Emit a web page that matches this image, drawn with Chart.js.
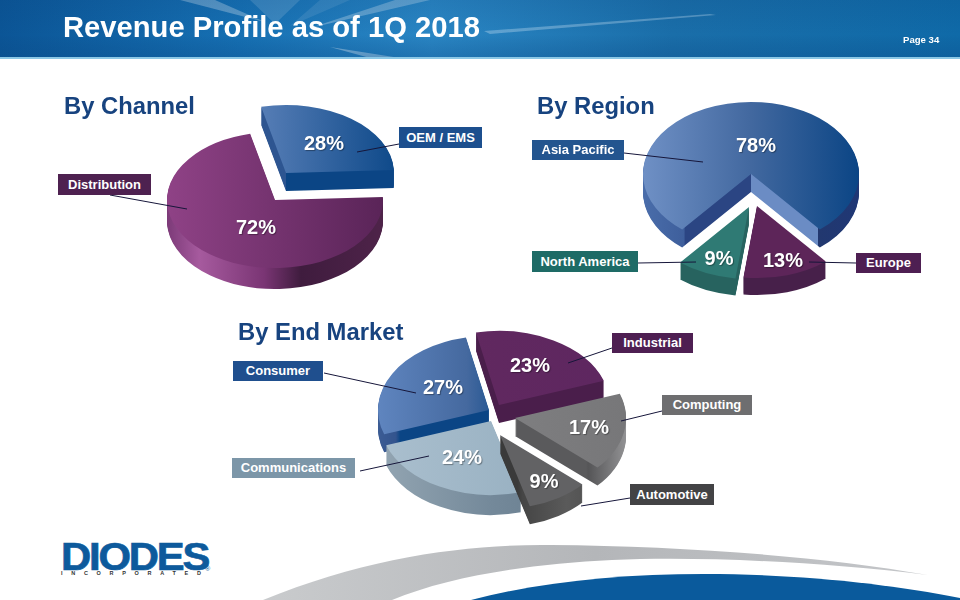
<!DOCTYPE html>
<html>
<head>
<meta charset="utf-8">
<title>Revenue Profile as of 1Q 2018</title>
<script src="https://cdn.jsdelivr.net/npm/chart.js@4"></script>
<style>
  html, body { margin: 0; padding: 0; background: #fff; }
  #page { position: relative; width: 960px; height: 600px; overflow: hidden; background: #fff;
    font-family: "Liberation Sans", Arial, sans-serif; }
  #page canvas { position: absolute; }
  #bg, #lines { position: absolute; left: 0; top: 0; }
  #bg { z-index: 0; }
  #lines { z-index: 5; }
  .title { position: absolute; left: 63px; top: 11px; color: #fff; font-weight: bold; font-size: 29.2px; white-space: nowrap; z-index: 2; }
  .pageno { position: absolute; left: 903px; top: 34px; color: #fff; font-weight: bold; font-size: 9.6px; z-index: 2; }
  .head { position: absolute; color: #17437f; font-weight: bold; font-size: 23.8px; white-space: nowrap; z-index: 6; }
  .tag { position: absolute; color: #fff; font-weight: bold; font-size: 13px; text-align: center; white-space: nowrap; z-index: 6; }
  .pct { position: absolute; color: #fff; font-weight: bold; font-size: 20px; width: 60px; margin-left: -30px; margin-top: -12px;
    line-height: 24px; text-align: center; text-shadow: 1px 1px 1px rgba(0,0,0,.35); z-index: 7; }
  .logo { position: absolute; left: 61px; top: 537px; color: #0d5a9c; font-weight: bold; font-size: 38px; line-height: 40px;
    letter-spacing: -2px; -webkit-text-stroke: .7px #0d5a9c; transform: scaleX(1.1); transform-origin: left top; z-index: 2; }
  .logosub { position: absolute; left: 61px; top: 570px; color: #333; font-weight: bold; font-size: 5.5px; letter-spacing: 8.7px; white-space: nowrap; z-index: 2; }
  .reg { position: absolute; left: 205px; top: 565px; color: #0d5a9c; font-size: 7px; z-index: 2; }
</style>
</head>
<body>
<div id="page">
  <svg id="bg" width="960" height="600">
    <defs>
      <linearGradient id="band" x1="0" x2="1" y1="0" y2="0">
        <stop offset="0" stop-color="#0b5596"/>
        <stop offset=".25" stop-color="#1670b3"/>
        <stop offset=".45" stop-color="#2a86c4"/>
        <stop offset=".7" stop-color="#1a6ea9"/>
        <stop offset="1" stop-color="#0f6aa8"/>
      </linearGradient>
      <linearGradient id="shade" x1="0" x2="0" y1="0" y2="1">
        <stop offset="0" stop-color="#0a3f78" stop-opacity=".15"/>
        <stop offset=".6" stop-color="#0a3f78" stop-opacity="0"/>
        <stop offset="1" stop-color="#0a4a88" stop-opacity=".3"/>
      </linearGradient>
      <linearGradient id="swoosh" x1="0" x2="1" y1="0" y2="0">
        <stop offset="0" stop-color="#c9cbcd"/>
        <stop offset=".5" stop-color="#b4b6b9"/>
        <stop offset="1" stop-color="#c4c6c9"/>
      </linearGradient>
    </defs>
    <rect x="0" y="0" width="960" height="58" fill="url(#band)"/>
    <polygon points="180,0 215,0 265,22" fill="#fff" opacity=".3"/>
    <polygon points="250,0 300,0 275,24" fill="#fff" opacity=".15"/>
    <polygon points="320,0 350,0 290,26" fill="#fff" opacity=".1"/>
    <polygon points="395,0 430,0 310,28" fill="#fff" opacity=".28"/>
    <polygon points="484,31 710,14 716,15 490,34" fill="#cfe6f5" opacity=".35"/>
    <polygon points="330,47 400,58 370,58" fill="#fff" opacity=".4"/>
    <rect x="0" y="0" width="960" height="58" fill="url(#shade)"/>
    <rect x="0" y="57" width="960" height="2" fill="#8cc8e6"/>
    <path d="M263 600 C370 556 470 544 551 545 C680 546 820 556 928 575 C820 562 700 556 612 560 C530 564 450 576 392 600 Z" fill="url(#swoosh)"/>
    <path d="M471 600 C540 582 620 574 704 574 C800 574 890 584 960 598 L960 600 Z" fill="#0a5a9c"/>
  </svg>
  <svg id="lines" width="960" height="600"></svg>
  <div class="title">Revenue Profile as of 1Q 2018</div>
  <div class="pageno">Page 34</div>
  <div class="logo">DIODES</div>
  <div class="logosub">INCORPORATED</div>
  <div class="reg">®</div>
</div>

<script>
// values
const channelLabels = ['Distribution', 'OEM / EMS'];
const channelValues = [72, 28];
const regionLabels = ['Asia Pacific', 'Europe', 'North America'];
const regionValues = [78, 13, 9];
const marketLabels = ['Industrial', 'Computing', 'Automotive', 'Communications', 'Consumer'];
const marketValues = [23, 17, 9, 24, 27];

const page = document.getElementById('page');
const CANVAS_SIZE = 320;

// look of each slice: colour stops across the pie (0 = left edge, 1 = right edge)
const charts = [
  {
    id: 'channel', head: 'By Channel', headAt: [64, 92],
    labels: channelLabels, values: channelValues,
    center: [275, 200], radius: 108, squash: 0.63, rotation: 87.5,
    order: [0, 1],
    slices: [
      { shift: [0, 0], depth: 21, top: [[0, '#8f4286'], [1, '#5a2458']],
        side: [[0, '#7c3a78'], [.15, '#a65a9e'], [.45, '#7a3574'], [.62, '#3f1c3e'], [1, '#4e2349']],
        tag: [58, 174, 93, 21, '#4e2150'], pct: [256, 227], line: [110, 195, 187, 209] },
      { shift: [11, -27], depth: 18, top: [[0, '#6188bf'], [.35, '#5a80b8'], [1, '#0f4a8a']],
        side: [[0, '#33578f'], [.5, '#2d5591'], [.5, '#0b4585'], [1, '#0b4585']],
        tag: [399, 127, 83, 21, '#1c4f8e'], pct: [324, 143], line: [357, 152, 399, 144] }
    ]
  },
  {
    id: 'region', head: 'By Region', headAt: [537, 92],
    labels: regionLabels, values: regionValues,
    center: [750, 174], radius: 108, squash: 0.667, rotation: 219.6,
    order: [0, 2, 1],
    slices: [
      { shift: [1, 0], depth: 18, top: [[0, '#6f90c5'], [.5, '#42689f'], [1, '#0b4585']],
        side: [[0, '#4a6daa'], [.19, '#3e5f9c'], [.195, '#2b4583'], [.5, '#2b4583'], [.5, '#6b8cc4'], [.81, '#6b8cc4'], [.81, '#22386f'], [1, '#1f3775']],
        tag: [532, 140, 92, 20, '#23558f'], pct: [756, 145], line: [624, 153, 703, 162] },
      { shift: [7, 32], depth: 17, top: [[0, '#5d2559'], [1, '#5d2559']],
        side: [[0, '#47204a'], [1, '#47204a']],
        tag: [856, 253, 65, 20, '#4e1f52'], pct: [783, 260], line: [809, 262, 856, 263] },
      { shift: [-1, 33], depth: 17, top: [[0, '#2f7a74'], [1, '#2f7a74']],
        side: [[0, '#27635f'], [1, '#27635f']],
        tag: [532, 251, 106, 21, '#1e6b66'], pct: [719, 258], line: [638, 263, 696, 262] }
    ]
  },
  {
    id: 'market', head: 'By End Market', headAt: [238, 318],
    labels: marketLabels, values: marketValues,
    center: [495, 412], radius: 111, squash: 0.667, rotation: -12,
    order: [0, 4, 1, 3, 2],
    slices: [
      { shift: [4, -7], depth: 18, top: [[0, '#62295f'], [1, '#5e2760']],
        side: [[0, '#4a1e4b'], [1, '#4a1e4b']],
        tag: [612, 333, 81, 20, '#4e1f52'], pct: [530, 365], line: [568, 363, 612, 348] },
      { shift: [20, 6], depth: 18, top: [[0, '#858587'], [1, '#777779']],
        side: [[0, '#5a5a5c'], [.82, '#5a5a5c'], [.83, '#555557'], [1, '#929294']],
        tag: [662, 395, 90, 20, '#6e6e70'], pct: [589, 427], line: [621, 421, 662, 411] },
      { shift: [5, 23], depth: 18, top: [[0, '#626264'], [1, '#626264']],
        side: [[0, '#3a3a3a'], [.58, '#3a3a3a'], [.6, '#454545'], [.8, '#5a5a5a'], [1, '#4a4a4a']],
        tag: [630, 484, 84, 21, '#434345'], pct: [544, 481], line: [581, 506, 630, 498] },
      { shift: [-4, 9], depth: 20, top: [[0, '#aabfce'], [1, '#90aabc']],
        side: [[0, '#93a5b2'], [.5, '#74899a'], [1, '#627788']],
        tag: [232, 458, 123, 20, '#7c96a8'], pct: [462, 457], line: [360, 471, 429, 456] },
      { shift: [-6, -2], depth: 18, top: [[0, '#5f85bf'], [.4, '#45699f'], [.6, '#0f4a8a'], [1, '#0b4585']],
        side: [[0, '#3c5c94'], [.08, '#33548e'], [.1, '#0b4585'], [1, '#0b4585']],
        tag: [233, 361, 90, 20, '#1f4f8e'], pct: [443, 387], line: [324, 373, 416, 393] }
    ]
  }
];

let hGrad = function(ctx, x, r, stops) {
  let g = ctx.createLinearGradient(x - r, 0, x + r, 0);
  stops.forEach(function(s) { g.addColorStop(s[0], s[1]); });
  return g;
};

// draws the library's own arc elements flattened and extruded, back slices first
const pie3d = {
  id: 'pie3d',
  beforeDatasetsDraw(chart, args, opts) {
    const ctx = chart.ctx;
    const arcs = chart.getDatasetMeta(0).data;
    opts.order.forEach(function(i) {
      const el = arcs[i];
      const s = opts.slices[i];
      const base = el.options;
      const r = el.outerRadius;
      const stamp = function(dy, fill) {
        ctx.save();
        ctx.translate(el.x + s.shift[0], el.y + s.shift[1] + dy);
        ctx.scale(1, opts.squash);
        ctx.translate(-el.x, -el.y);
        el.options = Object.assign({}, base, { backgroundColor: fill, borderWidth: 0 });
        el.draw(ctx);
        ctx.restore();
      };
      const sideFill = hGrad(ctx, el.x, r, s.side);
      for (let dy = s.depth; dy >= 1; dy--) {
        stamp(dy, sideFill);
      }
      stamp(0, hGrad(ctx, el.x, r, s.top));
      el.options = base;
    });
    return false;
  }
};

let addBox = function(cls, text, css) {
  let d = document.createElement('div');
  d.className = cls;
  d.textContent = text;
  Object.assign(d.style, css);
  page.appendChild(d);
};

const linesSvg = document.getElementById('lines');

charts.forEach(function(c) {
  const canvas = document.createElement('canvas');
  canvas.id = c.id;
  canvas.width = CANVAS_SIZE;
  canvas.height = CANVAS_SIZE;
  canvas.style.left = (c.center[0] - CANVAS_SIZE / 2) + 'px';
  canvas.style.top = (c.center[1] - CANVAS_SIZE / 2) + 'px';
  canvas.style.zIndex = 1;
  page.appendChild(canvas);

  new Chart(canvas, {
    type: 'pie',
    data: {
      labels: c.labels,
      datasets: [{ data: c.values, radius: c.radius, borderWidth: 0, backgroundColor: '#888' }]
    },
    options: {
      responsive: false,
      animation: false,
      rotation: c.rotation,
      layout: { padding: 0 },
      events: [],
      plugins: {
        legend: { display: false },
        tooltip: { enabled: false },
        pie3d: { order: c.order, slices: c.slices, squash: c.squash }
      }
    },
    plugins: [pie3d]
  });

  addBox('head', c.head, { left: c.headAt[0] + 'px', top: c.headAt[1] + 'px' });

  c.slices.forEach(function(s, i) {
    addBox('tag', c.labels[i], {
      left: s.tag[0] + 'px', top: s.tag[1] + 'px', width: s.tag[2] + 'px', height: s.tag[3] + 'px',
      lineHeight: s.tag[3] + 'px', background: s.tag[4]
    });
    addBox('pct', c.values[i] + '%', { left: s.pct[0] + 'px', top: s.pct[1] + 'px' });
    const l = document.createElementNS('http://www.w3.org/2000/svg', 'line');
    l.setAttribute('x1', s.line[0]);
    l.setAttribute('y1', s.line[1]);
    l.setAttribute('x2', s.line[2]);
    l.setAttribute('y2', s.line[3]);
    l.setAttribute('stroke', '#16163a');
    l.setAttribute('stroke-width', '1');
    linesSvg.appendChild(l);
  });
});
</script>
</body>
</html>
